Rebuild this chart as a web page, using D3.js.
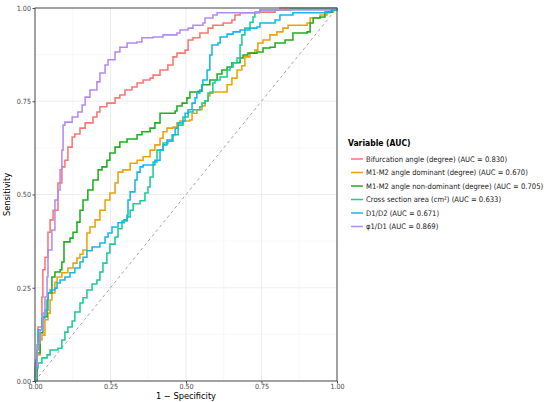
<!DOCTYPE html>
<html>
<head>
<meta charset="utf-8">
<script src="https://cdn.jsdelivr.net/npm/d3@7"></script>
<style>
  body { margin: 0; background: #fff; }
  svg { font-family: "DejaVu Sans Condensed", "DejaVu Sans", Verdana, sans-serif; }
</style>
</head>
<body>
<div id="chart"></div>
<script>
// series labels and colours
const labels = [
  "Bifurcation angle (degree) (AUC = 0.830)",
  "M1-M2 angle dominant (degree) (AUC = 0.670)",
  "M1-M2 angle non-dominant (degree) (AUC = 0.705)",
  "Cross section area (cm²) (AUC = 0.633)",
  "D1/D2 (AUC = 0.671)",
  "φ1/D1 (AUC = 0.869)"
];
const colors = ["#fb7670", "#eba10c", "#1fae1f", "#1ccb95", "#14b7e8", "#b58af0"];

const ticks = [0, 0.25, 0.5, 0.75, 1];
const tickLabels = ["0.00", "0.25", "0.50", "0.75", "1.00"];

// ROC points: [1 - specificity, sensitivity]
const bifurcation = [
  [0,0],[0,.048],[.007,.083],[.010,.145],[.023,.225],[.026,.298],[.033,.332],[.043,.399],
  [.050,.432],[.060,.458],[.076,.531],[.089,.574],[.099,.592],[.109,.627],[.123,.654],
  [.132,.662],[.149,.678],[.166,.692],[.192,.708],[.205,.721],[.215,.735],[.238,.745],
  [.265,.759],[.281,.767],[.298,.780],[.321,.788],[.338,.799],[.358,.807],[.381,.812],
  [.391,.820],[.414,.834],[.440,.847],[.457,.869],[.470,.879],[.497,.887],[.507,.914],
  [.523,.920],[.546,.933],[.573,.946],[.589,.954],[.623,.960],[.652,.968],[.662,.981],
  [.679,.987],[.728,.989],[.795,.995],[.811,1],[1,1]
];
const m1m2Dominant = [
  [0,0],[0,.029],[.007,.070],[.017,.110],[.023,.123],[.033,.164],[.043,.182],[.050,.217],
  [.056,.236],[.066,.265],[.073,.279],[.089,.290],[.109,.303],[.126,.316],[.139,.330],
  [.149,.340],[.159,.351],[.172,.397],[.182,.413],[.199,.432],[.215,.458],[.232,.485],
  [.248,.504],[.265,.531],[.275,.560],[.291,.566],[.315,.584],[.338,.592],[.358,.601],
  [.381,.619],[.397,.633],[.414,.651],[.424,.668],[.437,.678],[.457,.681],[.470,.692],
  [.480,.697],[.513,.700],[.520,.718],[.536,.727],[.553,.737],[.563,.751],[.573,.764],
  [.579,.775],[.619,.775],[.636,.794],[.652,.812],[.669,.834],[.685,.845],[.695,.869],
  [.712,.879],[.728,.887],[.738,.906],[.755,.914],[.778,.928],[.801,.936],[.821,.946],
  [.838,.954],[.901,.960],[.911,.973],[.944,.981],[.967,.989],[.987,.995],[1,1]
];
const m1m2NonDominant = [
  [0,0],[.007,.075],[.017,.129],[.026,.172],[.040,.217],[.043,.236],[.056,.279],[.066,.292],
  [.083,.298],[.089,.319],[.096,.373],[.116,.383],[.126,.399],[.139,.426],[.149,.458],
  [.159,.485],[.175,.512],[.192,.539],[.209,.566],[.222,.574],[.238,.592],[.248,.611],
  [.265,.627],[.281,.641],[.305,.649],[.338,.660],[.354,.668],[.381,.678],[.397,.692],
  [.414,.718],[.464,.724],[.470,.737],[.487,.745],[.503,.759],[.513,.775],[.540,.777],
  [.553,.794],[.579,.807],[.603,.823],[.619,.834],[.636,.842],[.652,.853],[.679,.866],
  [.689,.874],[.705,.879],[.735,.882],[.755,.893],[.778,.895],[.795,.906],[.828,.914],
  [.854,.933],[.901,.936],[.911,.960],[.921,.973],[.944,.976],[.960,.989],[.983,.995],[1,1]
];
const crossSection = [
  [0,0],[0,.035],[.010,.048],[.023,.062],[.040,.070],[.050,.083],[.076,.088],[.089,.110],
  [.099,.131],[.109,.145],[.123,.161],[.132,.185],[.149,.209],[.159,.223],[.172,.244],
  [.189,.260],[.205,.271],[.215,.292],[.225,.316],[.238,.343],[.248,.367],[.265,.386],
  [.275,.408],[.288,.429],[.305,.440],[.315,.458],[.325,.475],[.348,.483],[.364,.504],
  [.374,.520],[.381,.547],[.391,.587],[.404,.619],[.424,.638],[.440,.643],[.457,.660],
  [.474,.686],[.490,.708],[.507,.721],[.523,.727],[.546,.735],[.553,.745],[.563,.751],
  [.573,.772],[.589,.799],[.596,.807],[.613,.815],[.636,.834],[.646,.842],[.656,.853],
  [.669,.866],[.679,.901],[.685,.928],[.695,.946],[.712,.962],[.722,.976],[.728,.987],
  [.745,.995],[.844,.997],[1,1]
];
const d1d2 = [
  [0,0],[.003,.056],[.007,.097],[.010,.137],[.023,.169],[.033,.190],[.043,.236],[.050,.244],
  [.066,.249],[.073,.263],[.083,.271],[.099,.279],[.116,.290],[.132,.303],[.149,.319],
  [.159,.332],[.172,.349],[.189,.359],[.215,.370],[.232,.386],[.242,.397],[.255,.413],
  [.275,.424],[.295,.432],[.305,.445],[.308,.485],[.315,.507],[.331,.539],[.338,.560],
  [.348,.574],[.358,.579],[.391,.579],[.397,.592],[.414,.619],[.424,.633],[.437,.646],
  [.454,.660],[.464,.678],[.474,.692],[.490,.697],[.497,.718],[.507,.727],[.520,.745],
  [.530,.759],[.536,.772],[.546,.780],[.553,.794],[.556,.807],[.570,.834],[.579,.874],
  [.586,.901],[.606,.906],[.613,.922],[.636,.930],[.656,.936],[.679,.941],[.712,.946],
  [.735,.949],[.745,.960],[.795,.968],[.811,.981],[.854,.987],[.970,.987],[.977,.995],[1,1]
];
const phi1D1 = [
  [0,0],[.003,.043],[.007,.083],[.010,.102],[.017,.137],[.026,.182],[.033,.225],[.040,.279],
  [.043,.351],[.056,.405],[.066,.485],[.076,.512],[.083,.566],[.089,.619],[.093,.686],
  [.099,.694],[.123,.708],[.142,.721],[.156,.740],[.166,.761],[.182,.780],[.205,.802],
  [.215,.826],[.232,.847],[.242,.861],[.265,.882],[.281,.895],[.305,.906],[.338,.909],
  [.354,.920],[.391,.922],[.424,.928],[.470,.933],[.480,.941],[.507,.946],[.523,.954],
  [.556,.960],[.563,.973],[.589,.981],[.603,.987],[.735,.989],[.745,.995],[.854,.995],
  [.977,1],[1,1]
];

const series = [bifurcation, m1m2Dominant, m1m2NonDominant, crossSection, d1d2, phi1D1];

const W = 550, H = 402;
const margin = { top: 8, right: 213, bottom: 21, left: 35 };
const iw = W - margin.left - margin.right;
const ih = H - margin.top - margin.bottom;

const svg = d3.select("#chart").append("svg")
  .attr("width", W).attr("height", H);

const g = svg.append("g").attr("transform", `translate(${margin.left},${margin.top})`);

const x = d3.scaleLinear().domain([0, 1]).range([0, iw]);
const y = d3.scaleLinear().domain([0, 1]).range([ih, 0]);

// grid, minor first then major
const minor = [0.125, 0.375, 0.625, 0.875];
g.append("g").selectAll("line").data(minor).join("line")
  .attr("x1", d => x(d)).attr("x2", d => x(d)).attr("y1", 0).attr("y2", ih)
  .attr("stroke", "#f3f3f3").attr("stroke-width", 0.6);
g.append("g").selectAll("line").data(minor).join("line")
  .attr("y1", d => y(d)).attr("y2", d => y(d)).attr("x1", 0).attr("x2", iw)
  .attr("stroke", "#f3f3f3").attr("stroke-width", 0.6);
g.append("g").selectAll("line").data(ticks).join("line")
  .attr("x1", d => x(d)).attr("x2", d => x(d)).attr("y1", 0).attr("y2", ih)
  .attr("stroke", "#ebebeb").attr("stroke-width", 0.9);
g.append("g").selectAll("line").data(ticks).join("line")
  .attr("y1", d => y(d)).attr("y2", d => y(d)).attr("x1", 0).attr("x2", iw)
  .attr("stroke", "#ebebeb").attr("stroke-width", 0.9);

// chance line
g.append("line")
  .attr("x1", x(0)).attr("y1", y(0)).attr("x2", x(1)).attr("y2", y(1))
  .attr("stroke", "#8c8c8c").attr("stroke-width", 0.8).attr("stroke-dasharray", "3,3");

// curves
const line = d3.line()
  .x(d => x(d[0])).y(d => y(d[1]))
  .curve(d3.curveStepAfter);

g.append("g").selectAll("path").data(series).join("path")
  .attr("d", line)
  .attr("fill", "none")
  .attr("stroke", (d, i) => colors[i])
  .attr("stroke-width", 1.55)
  .attr("stroke-linejoin", "miter");

// panel border
g.append("rect").attr("width", iw).attr("height", ih)
  .attr("fill", "none").attr("stroke", "#4d4d4d").attr("stroke-width", 1);

// axes
const xAxis = g.append("g").attr("transform", `translate(0,${ih})`)
  .call(d3.axisBottom(x).tickValues(ticks).tickFormat((d, i) => tickLabels[i]).tickSize(2.5).tickPadding(0.5));
const yAxis = g.append("g")
  .call(d3.axisLeft(y).tickValues(ticks).tickFormat((d, i) => tickLabels[i]).tickSize(2.5).tickPadding(1.5));
[xAxis, yAxis].forEach(a => {
  a.select(".domain").remove();
  a.selectAll("line").attr("stroke", "#4d4d4d");
  a.selectAll("text").attr("fill", "#4d4d4d")
    .style("font-family", "'DejaVu Sans Condensed', 'DejaVu Sans', sans-serif").style("font-size", "7.1px");
});

// axis titles
svg.append("text")
  .attr("x", margin.left + iw / 2).attr("y", 399)
  .attr("text-anchor", "middle").style("font-size", "9.2px").attr("fill", "#000")
  .text("1 − Specificity");
svg.append("text")
  .attr("transform", `translate(10,${margin.top + ih / 2}) rotate(-90)`)
  .attr("text-anchor", "middle").style("font-size", "9.2px").attr("fill", "#000")
  .text("Sensitivity");

// legend
const leg = svg.append("g").attr("transform", "translate(348,143)");
leg.append("text").attr("x", 0).attr("y", 3)
  .style("font-size", "8.5px").style("font-weight", "bold").text("Variable (AUC)");
const items = leg.selectAll("g.item").data(labels).join("g")
  .attr("class", "item")
  .attr("transform", (d, i) => `translate(0,${16 + i * 13.5})`);
items.append("line").attr("x1", 3).attr("x2", 15).attr("y1", 0).attr("y2", 0)
  .attr("stroke", (d, i) => colors[i]).attr("stroke-width", 1.5);
items.append("text").attr("x", 18).attr("y", 0).attr("dy", "0.35em")
  .style("font-size", "7.6px").attr("fill", "#1a1a1a").text(d => d);
</script>
</body>
</html>
